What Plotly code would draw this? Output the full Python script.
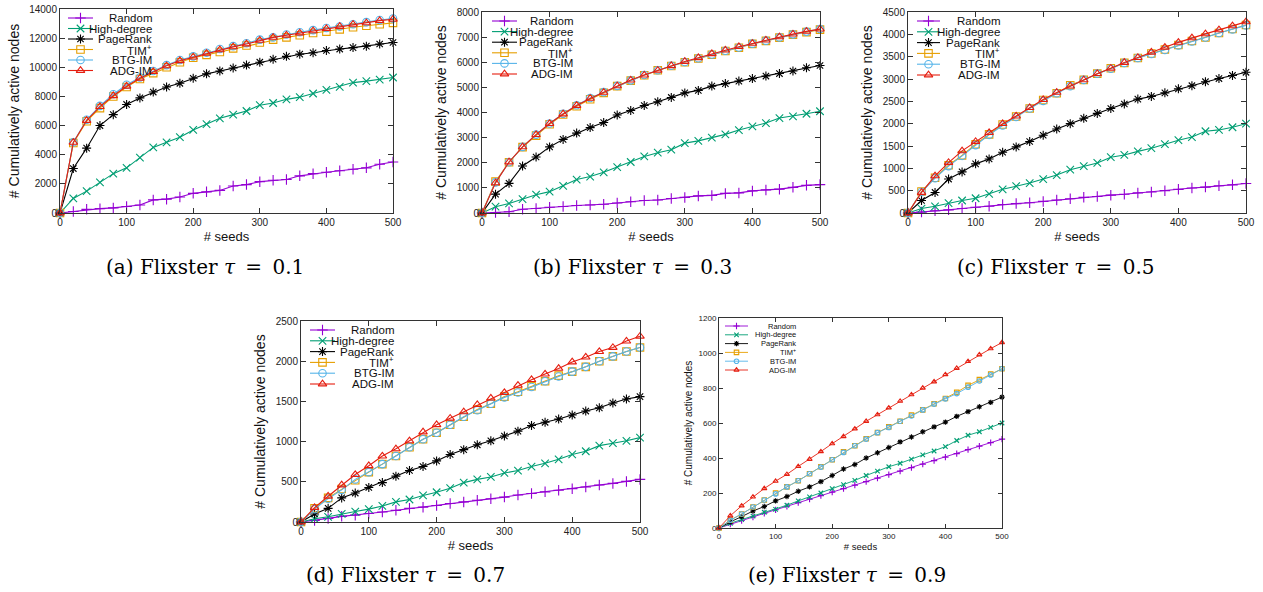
import plotly.graph_objects as go

W, H = 1263, 592

# ---------------- data ----------------
seeds = list(range(0, 501, 20))
methods = ["Random", "High-degree", "PageRank", "TIM<sup>+</sup>", "BTG-IM", "ADG-IM"]
colors = ["#9400D3", "#009E73", "#000000", "#E69F00", "#56B4E9", "#E51E10"]
symbols = ["cross-thin", "x-thin", "asterisk-open", "square-open", "circle-open", "triangle-up-open"]

# tau = 0.1
random_01 = [0, 100, 250, 300, 350, 450, 550, 900, 950, 1100, 1350, 1450, 1550, 1850, 1950, 2150, 2250, 2300, 2550, 2700, 2800, 2900, 3000, 3100, 3350, 3500]
high_01 = [0, 1000, 1500, 2100, 2700, 3100, 3800, 4500, 4850, 5200, 5700, 6100, 6500, 6750, 7000, 7400, 7550, 7800, 7950, 8200, 8450, 8650, 8950, 9050, 9150, 9300]
pr_01 = [0, 3050, 4450, 6000, 6750, 7450, 7900, 8300, 8650, 8900, 9250, 9550, 9750, 9950, 10150, 10350, 10550, 10750, 10900, 11000, 11150, 11250, 11350, 11450, 11600, 11700]
tim_01 = [0, 4800, 6300, 7200, 8000, 8650, 9200, 9600, 10000, 10350, 10650, 10850, 11050, 11300, 11500, 11700, 11900, 12050, 12200, 12350, 12450, 12600, 12750, 12850, 12950, 13050]
btg_01 = [0, 4850, 6400, 7350, 8150, 8800, 9300, 9750, 10150, 10500, 10750, 11000, 11250, 11450, 11650, 11900, 12050, 12250, 12400, 12550, 12700, 12800, 12950, 13100, 13250, 13350]
adg_01 = [0, 4850, 6350, 7300, 8050, 8700, 9250, 9700, 10100, 10450, 10700, 10950, 11200, 11400, 11600, 11850, 12050, 12200, 12350, 12500, 12650, 12800, 12950, 13050, 13200, 13300]

# tau = 0.3
random_03 = [0, 20, 50, 150, 180, 230, 260, 300, 320, 350, 400, 450, 500, 520, 580, 620, 680, 700, 780, 800, 880, 920, 950, 1020, 1100, 1130]
high_03 = [0, 250, 380, 550, 730, 850, 1080, 1330, 1450, 1620, 1830, 2030, 2250, 2400, 2520, 2780, 2870, 3000, 3130, 3300, 3450, 3580, 3780, 3850, 3950, 4050]
pr_03 = [0, 750, 1180, 1870, 2230, 2630, 2930, 3180, 3400, 3600, 3900, 4080, 4280, 4430, 4600, 4780, 4880, 5050, 5150, 5250, 5350, 5450, 5550, 5650, 5780, 5870]
tim_03 = [0, 1250, 2020, 2620, 3080, 3530, 3920, 4250, 4530, 4780, 5050, 5270, 5480, 5680, 5850, 6000, 6150, 6300, 6450, 6580, 6730, 6850, 6980, 7100, 7200, 7300]
btg_03 = [0, 1220, 2020, 2630, 3120, 3560, 3950, 4290, 4580, 4810, 5060, 5280, 5490, 5680, 5860, 6010, 6160, 6310, 6460, 6590, 6740, 6860, 6990, 7110, 7220, 7320]
adg_03 = [0, 1200, 2030, 2630, 3120, 3560, 3940, 4280, 4560, 4800, 5060, 5290, 5490, 5680, 5860, 6030, 6180, 6340, 6480, 6620, 6750, 6880, 7010, 7120, 7230, 7320]

# tau = 0.5
random_05 = [0, 20, 50, 70, 100, 130, 150, 190, 210, 230, 260, 290, 320, 350, 370, 400, 420, 450, 470, 500, 530, 560, 580, 610, 630, 660]
high_05 = [0, 100, 150, 220, 280, 330, 430, 530, 600, 670, 760, 850, 970, 1050, 1120, 1250, 1300, 1380, 1450, 1540, 1630, 1700, 1830, 1860, 1920, 2000]
pr_05 = [0, 280, 460, 760, 920, 1100, 1210, 1360, 1480, 1600, 1740, 1880, 2000, 2120, 2230, 2340, 2440, 2550, 2610, 2690, 2780, 2850, 2940, 3010, 3080, 3150]
tim_05 = [0, 480, 790, 1070, 1290, 1540, 1760, 1980, 2160, 2340, 2530, 2680, 2860, 2980, 3120, 3240, 3360, 3470, 3570, 3660, 3760, 3850, 3930, 4030, 4120, 4210]
btg_05 = [0, 470, 780, 1050, 1280, 1520, 1750, 1960, 2150, 2340, 2510, 2680, 2840, 2980, 3120, 3230, 3360, 3470, 3560, 3650, 3750, 3840, 3930, 4030, 4110, 4200]
adg_05 = [0, 460, 830, 1130, 1390, 1600, 1800, 2000, 2170, 2360, 2540, 2700, 2840, 2980, 3120, 3240, 3370, 3480, 3600, 3710, 3820, 3920, 4010, 4100, 4190, 4280]

# tau = 0.7
random_07 = [0, 20, 45, 70, 85, 105, 125, 145, 170, 185, 205, 230, 250, 270, 290, 310, 335, 355, 375, 395, 415, 435, 460, 480, 505, 530]
high_07 = [0, 40, 65, 100, 130, 160, 200, 250, 280, 330, 370, 420, 490, 530, 560, 610, 640, 690, 730, 780, 840, 880, 950, 980, 1010, 1050]
pr_07 = [0, 100, 170, 300, 360, 430, 490, 570, 640, 690, 760, 840, 900, 960, 1010, 1070, 1130, 1200, 1240, 1280, 1330, 1380, 1420, 1480, 1530, 1560]
tim_07 = [0, 170, 300, 410, 520, 620, 720, 820, 930, 1030, 1110, 1210, 1310, 1400, 1470, 1560, 1620, 1690, 1750, 1820, 1870, 1930, 2000, 2060, 2120, 2170]
btg_07 = [0, 160, 290, 400, 530, 620, 720, 820, 930, 1030, 1110, 1210, 1310, 1390, 1470, 1550, 1610, 1680, 1750, 1810, 1870, 1930, 2000, 2060, 2120, 2170]
adg_07 = [0, 180, 320, 460, 590, 700, 820, 910, 1010, 1120, 1210, 1290, 1370, 1460, 1540, 1610, 1700, 1770, 1840, 1910, 1990, 2050, 2120, 2170, 2250, 2310]

# tau = 0.9
random_09 = [0, 22, 43, 63, 84, 104, 124, 145, 165, 185, 205, 225, 245, 265, 285, 305, 325, 345, 365, 385, 405, 425, 448, 468, 488, 508]
high_09 = [0, 27, 48, 68, 90, 107, 130, 155, 178, 200, 225, 248, 272, 300, 325, 350, 370, 393, 418, 440, 465, 500, 530, 550, 575, 600]
pr_09 = [0, 35, 65, 97, 123, 155, 180, 210, 235, 265, 300, 337, 363, 400, 430, 460, 492, 520, 550, 578, 605, 638, 665, 693, 718, 748]
tim_09 = [0, 45, 80, 120, 160, 200, 235, 270, 310, 350, 390, 435, 470, 510, 545, 578, 610, 645, 675, 710, 740, 775, 815, 848, 880, 910]
btg_09 = [0, 45, 80, 120, 160, 195, 235, 270, 310, 348, 390, 432, 470, 508, 545, 575, 610, 640, 675, 708, 738, 768, 805, 840, 875, 910]
adg_09 = [0, 70, 127, 178, 226, 268, 307, 352, 393, 437, 482, 523, 567, 610, 648, 687, 725, 762, 800, 836, 877, 913, 952, 990, 1025, 1060]

EQ = " \u2009=\u2009 "
captions = ["(a) Flixster <i>τ</i>" + EQ + "0.1", "(b) Flixster <i>τ</i>" + EQ + "0.3",
            "(c) Flixster <i>τ</i>" + EQ + "0.5", "(d) Flixster <i>τ</i>" + EQ + "0.7",
            "(e) Flixster <i>τ</i>" + EQ + "0.9"]

# ---------------- layout spec (pixels) ----------------
panels = [
    dict(series=[random_01, high_01, pr_01, tim_01, btg_01, adg_01], ymax=14000, dtick=2000,
         box=(60, 393, 9, 213), small=False, cap=(205, 267), leg=(68, 93, 154, 18, 10.5)),
    dict(series=[random_03, high_03, pr_03, tim_03, btg_03, adg_03], ymax=8000, dtick=1000,
         box=(482, 820, 12, 213), small=False, cap=(632, 267), leg=(492, 517, 575, 21, 10.6)),
    dict(series=[random_05, high_05, pr_05, tim_05, btg_05, adg_05], ymax=4500, dtick=500,
         box=(908, 1246, 12, 213), small=False, cap=(1056, 267), leg=(917, 940, 1002, 21, 10.8)),
    dict(series=[random_07, high_07, pr_07, tim_07, btg_07, adg_07], ymax=2500, dtick=500,
         box=(301, 640, 321, 522), small=False, cap=(405, 575), leg=(310, 335, 396, 330, 10.8)),
    dict(series=[random_09, high_09, pr_09, tim_09, btg_09, adg_09], ymax=1200, dtick=200,
         box=(719, 1002, 318, 528), small=True, cap=(847, 575), leg=(725, 748, 798, 326, 8.8)),
]

FONT = "Liberation Sans, Arial, sans-serif"
fig = go.Figure()
layout = {}
annotations = []

for i, p in enumerate(panels):
    k = i + 1
    ko = k + 5
    L, R, T, B = p["box"]
    xd = [L / W, R / W]
    yd = [1 - B / H, 1 - T / H]
    small = p["small"]
    tick_f = 8 if small else 10
    xtitle_f = 9.5 if small else 13
    ytitle_f = 10 if small else 14
    leg_f = 7.5 if small else 11.5
    msize = 4.5 if small else 7.5
    lw = 0.9 if small else 1.1
    tlen = 4 if small else 5

    xa = "x" if k == 1 else f"x{k}"
    ya = "y" if k == 1 else f"y{k}"
    for s, name, c, sym in zip(p["series"], methods, colors, symbols):
        fig.add_trace(go.Scatter(
            x=seeds, y=s, mode="lines+markers", name=name, showlegend=False,
            xaxis=xa, yaxis=ya, cliponaxis=False,
            line=dict(color=c, width=lw),
            marker=dict(symbol=sym, size=msize, color=c, line=dict(color=c, width=1.1)),
        ))

    common = dict(showline=True, linecolor="#333", linewidth=1, mirror="ticks",
                  ticks="inside", ticklen=tlen, tickcolor="#333", showgrid=False,
                  zeroline=False, automargin=False, tickformat="d",
                  tickfont=dict(family=FONT, size=tick_f, color="#222"))
    layout[f"xaxis{k}"] = dict(domain=xd, range=[0, 500], dtick=100, tick0=0, anchor=ya,
                               title=dict(text="# seeds", font=dict(family=FONT, size=xtitle_f, color="#111"),
                                          standoff=3 if small else 4), **common)
    layout[f"yaxis{k}"] = dict(domain=yd, range=[0, p["ymax"]], dtick=p["dtick"], tick0=0, anchor=xa,
                               title=dict(text="# Cumulatively active nodes",
                                          font=dict(family=FONT, size=ytitle_f, color="#111"),
                                          standoff=4 if small else 6), **common)

    # overlay axes in pixel units for the in-plot key
    xo = f"x{ko}"
    yo = f"y{ko}"
    layout[f"xaxis{ko}"] = dict(domain=xd, range=[L, R], visible=False, anchor=yo, automargin=False)
    layout[f"yaxis{ko}"] = dict(domain=yd, range=[B, T], visible=False, anchor=xo, automargin=False)
    x0, x1, xr, y0, dy = p["leg"]
    for j, (name, c, sym) in enumerate(zip(methods, colors, symbols)):
        yy = y0 + j * dy
        fig.add_trace(go.Scatter(
            x=[x0, (x0 + x1) / 2, x1], y=[yy, yy, yy], mode="lines", showlegend=False,
            xaxis=xo, yaxis=yo, hoverinfo="skip", cliponaxis=False,
            line=dict(color=c, width=lw),
        ))
        fig.add_trace(go.Scatter(
            x=[(x0 + x1) / 2], y=[yy], mode="markers", showlegend=False,
            xaxis=xo, yaxis=yo, hoverinfo="skip", cliponaxis=False,
            marker=dict(symbol=sym, size=msize, color=c, line=dict(color=c, width=1.1)),
        ))
        annotations.append(dict(text=name, xref=xo, yref=yo, x=xr, y=yy, xanchor="right",
                                yanchor="middle", showarrow=False,
                                font=dict(family=FONT, size=leg_f, color="#111")))

    cx, cy = p["cap"]
    annotations.append(dict(text=captions[i], xref="paper", yref="paper", x=cx / W, y=1 - cy / H,
                            xanchor="center", yanchor="middle", showarrow=False,
                            font=dict(family="DejaVu Serif, Liberation Serif, serif", size=20, color="#000")))

fig.update_layout(
    width=W, height=H, margin=dict(l=0, r=0, t=0, b=0, autoexpand=False),
    paper_bgcolor="white", plot_bgcolor="rgba(0,0,0,0)",
    showlegend=False, annotations=annotations, **layout,
)
fig.write_html("out.html", config={"displayModeBar": False},
               post_script="document.body.style.margin='0';document.body.style.overflow='hidden';")
